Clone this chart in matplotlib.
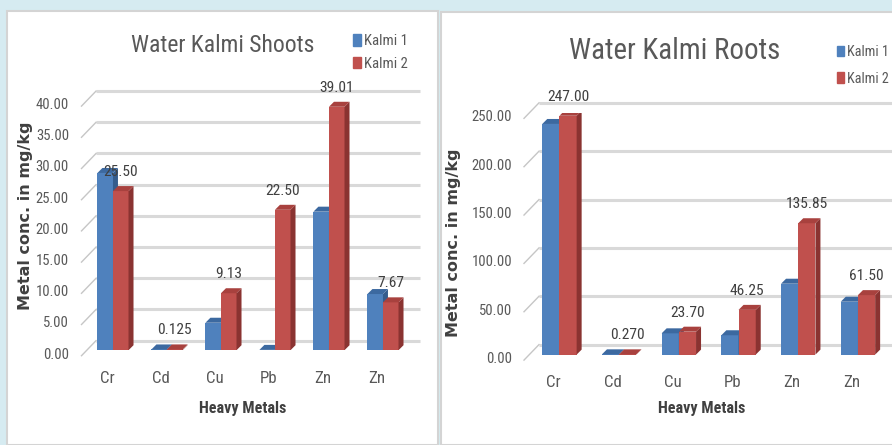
import matplotlib
matplotlib.use("Agg")
import matplotlib.pyplot as plt
import numpy as np
from matplotlib import font_manager
from matplotlib.patches import Patch, Polygon, Rectangle
from matplotlib.transforms import ScaledTranslation

# ---- data -------------------------------------------------------------
METALS = ["Cr", "Cd", "Cu", "Pb", "Zn", "Zn"]
SERIES = ["Kalmi 1", "Kalmi 2"]

SHOOT_K1 = [28.4, 0.12, 4.4, 0.05, 22.2, 9.0]
SHOOT_K2 = [25.50, 0.125, 9.13, 22.50, 39.01, 7.67]
SHOOT_LABELS = ["25.50", "0.125", "9.13", "22.50", "39.01", "7.67"]
SHOOT_TICKS = [0, 5, 10, 15, 20, 25, 30, 35, 40]

ROOT_K1 = [238.5, 0.27, 22.0, 20.0, 73.3, 54.7]
ROOT_K2 = [247.00, 0.270, 23.70, 46.25, 135.85, 61.50]
ROOT_LABELS = ["247.00", "0.270", "23.70", "46.25", "135.85", "61.50"]
ROOT_TICKS = [0, 50, 100, 150, 200, 250]

# ---- style ------------------------------------------------------------
W, H, DPI = 892, 445, 100
BG = "#d6ebf1"
BLUE, BLUE_TOP, BLUE_SIDE = "#4f81bd", "#3c69a0", "#345c8c"
RED, RED_TOP, RED_SIDE = "#c0504d", "#a8413e", "#8a3331"
GRID = "#d9d9d9"
INK = "#595959"
INK_DARK = "#404040"
BAR_W = 0.288
DEPTH = 5  # px, bar depth

# the original uses a condensed Calibri-like face; take the narrowest one we have
_names = {f.name for f in font_manager.fontManager.ttflist}
NARROW = "Liberation Sans"
FS = 0.86  # shrink sizes when only a normal-width face is available
for cand, scale in [("Liberation Sans Narrow", 1.0), ("Roboto Condensed", 0.97),
                    ("Open Sans Condensed", 1.0), ("Roboto", 0.9)]:
    if cand in _names:
        NARROW, FS = cand, scale
        break


def shift(fig, dx, dy):
    # pixel offset, dy positive = downwards
    return ScaledTranslation(dx / DPI, -dy / DPI, fig.dpi_scale_trans)


def px_to_data(ax, dx, dy):
    o = ax.transData.transform((0, 0))
    p = ax.transData.inverted().transform(o + np.array([dx, -dy]))
    return p[0], p[1]


def bar_faces(ax, lefts, heights, top_c, side_c):
    ddx, ddy = px_to_data(ax, DEPTH, -DEPTH)
    for x0, h in zip(lefts, heights):
        x1 = x0 + BAR_W
        side = [(x1, 0), (x1, h), (x1 + ddx, h + ddy), (x1 + ddx, ddy)]
        top = [(x0, h), (x1, h), (x1 + ddx, h + ddy), (x0 + ddx, h + ddy)]
        ax.add_patch(Polygon(side, closed=True, facecolor=side_c, edgecolor="none", zorder=3))
        ax.add_patch(Polygon(top, closed=True, facecolor=top_c, edgecolor="none", zorder=3))


def draw_panel(fig, lay, k1, k2, labels, ticks, title):
    ax = fig.add_axes(lay["rect"])
    ax.patch.set_visible(False)
    n = len(METALS)
    ax.set_xlim(-lay["xpad"], n - 1 + lay["xpad_r"])
    ax.set_ylim(0, ticks[-1])
    ax.set_axis_off()
    x = np.arange(n)
    x0, x1 = ax.get_xlim()

    # back wall gridlines + floor diagonals
    fx, fy = px_to_data(ax, -5, 5.5)
    bx, by = px_to_data(ax, lay["back"], -lay["back"])
    for v in ticks:
        ax.plot([x0 + bx, x1 + bx], [v + by, v + by], color=GRID, lw=2.2,
                zorder=1, clip_on=False, solid_capstyle="butt")
        ax.plot([x0 + fx, x0 + bx], [v + fy, v + by], color="#c6c6c6", lw=1,
                zorder=1, clip_on=False)
        ax.text(x0, v, f"{v:.2f}", transform=ax.transData + shift(fig, -lay["tick_dx"], 4.5),
                ha="right", va="center", fontsize=11 * FS, color=INK, family=NARROW)

    # bars with fake depth
    ax.bar(x - BAR_W / 2, k1, BAR_W, color=BLUE, zorder=3)
    bar_faces(ax, x - BAR_W, k1, BLUE_TOP, BLUE_SIDE)
    ax.bar(x + BAR_W / 2, k2, BAR_W, color=RED, zorder=3)
    bar_faces(ax, x, k2, RED_TOP, RED_SIDE)

    for i, lab in enumerate(labels):
        ax.text(x[i] + BAR_W / 2, k2[i], lab, transform=ax.transData + shift(fig, 0, -19),
                ha="center", va="center", fontsize=11.5 * FS, color=INK_DARK, family=NARROW,
                zorder=5)
    for i, name in enumerate(METALS):
        ax.text(x[i], 0, name, transform=ax.transData + shift(fig, -6, 28),
                ha="center", va="center", fontsize=12.5 * FS, color=INK, family=NARROW)

    tx, ty = lay["title"]
    fig.text(tx / W, 1 - ty / H, title, ha="center", va="center",
             fontsize=lay["title_size"] * FS, color=INK, family=NARROW)
    xx, xy = lay["xlabel"]
    fig.text(xx / W, 1 - xy / H, "Heavy Metals", ha="center", va="center",
             fontsize=12 * FS, color=INK_DARK, family=NARROW, fontweight="bold")
    yx, yy = lay["ylabel"]
    fig.text(yx / W, 1 - yy / H, "Metal conc. in mg/kg", ha="center", va="center",
             rotation=90, fontsize=11.5, color=INK_DARK, family="DejaVu Sans",
             fontweight="bold")

    lx, ly = lay["legend"]
    handles = [Patch(color=BLUE, label=SERIES[0]), Patch(color=RED, label=SERIES[1])]
    ax.legend(handles=handles, loc="upper left", bbox_to_anchor=(lx / W, 1 - ly / H),
              bbox_transform=fig.transFigure, frameon=False, borderpad=0,
              borderaxespad=0, handlelength=0.55, handleheight=0.8,
              handletextpad=0.2, labelspacing=lay["lspace"], labelcolor=INK,
              prop={"family": NARROW, "size": lay["legend_size"] * FS})
    return ax


fig = plt.figure(figsize=(W / DPI, H / DPI), dpi=DPI)
fig.patch.set_facecolor(BG)
fig.patches.append(Rectangle((7 / W, 0), 430.5 / W, 1 - 10.5 / H, transform=fig.transFigure,
                             facecolor="white", edgecolor="#d4d4d4", lw=1.5, zorder=-5))
fig.patches.append(Rectangle((441 / W, 0), 460 / W, 1 - 11.5 / H, transform=fig.transFigure,
                             facecolor="white", edgecolor="#d4d4d4", lw=1.5, zorder=-5))

shoot_layout = {
    "rect": [86.5 / W, 1 - 350.2 / H, 324 / W, 249.6 / H],
    "xpad": 0.49, "xpad_r": 0.51, "back": 9.5, "tick_dx": 17.5,
    "title": (223, 46), "title_size": 17.5,
    "xlabel": (243, 409), "ylabel": (26, 215.5),
    "legend": (353, 34), "lspace": 0.6, "legend_size": 11,
}
root_layout = {
    "rect": [529 / W, 1 - 354.6 / H, 358.2 / W, 241.75 / H],
    "xpad": 0.51, "xpad_r": 0.49, "back": 10, "tick_dx": 16.7,
    "title": (675, 51), "title_size": 21.5,
    "xlabel": (701.7, 409), "ylabel": (453.3, 243),
    "legend": (836.5, 45), "lspace": 0.9, "legend_size": 10.5,
}

draw_panel(fig, shoot_layout, SHOOT_K1, SHOOT_K2, SHOOT_LABELS, SHOOT_TICKS,
           "Water Kalmi Shoots")
draw_panel(fig, root_layout, ROOT_K1, ROOT_K2, ROOT_LABELS, ROOT_TICKS,
           "Water Kalmi Roots")

fig.savefig("out.png", dpi=DPI, facecolor=BG)
